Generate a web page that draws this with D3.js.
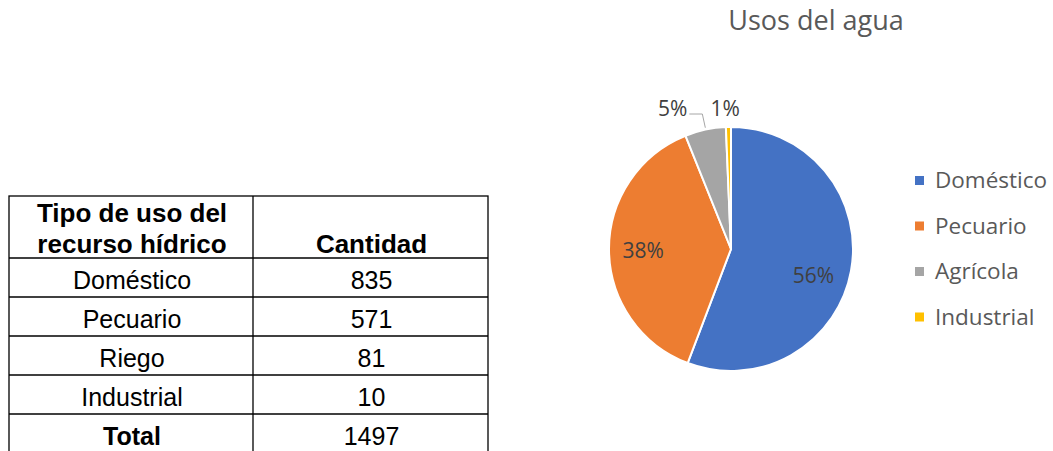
<!DOCTYPE html>
<html>
<head>
<meta charset="utf-8">
<script src="https://cdn.jsdelivr.net/npm/d3@7"></script>
<style>
  body { margin: 0; background: #fff; }
  svg { display: block; }
</style>
</head>
<body>
<svg id="chart" width="1053" height="451"></svg>
<script>
// table data
const tableHeader = ["Tipo de uso del\nrecurso hídrico", "Cantidad"];
const tableTypes = ["Doméstico", "Pecuario", "Riego", "Industrial"];
const tableValues = [835, 571, 81, 10];
const tableTotal = 1497;

// pie data
const pieLabels = ["Doméstico", "Pecuario", "Agrícola", "Industrial"];
const pieValues = [835, 571, 81, 10];
const pieColors = ["#4472C4", "#ED7D31", "#A5A5A5", "#FFC000"];
const chartTitle = "Usos del agua";

const svg = d3.select("#chart");

// ---- table ----
const tbl = svg.append("g");
const colX = [9, 253, 488];
const headTop = 196, headBottom = 258, rowH = 39;
const rowTop = i => headBottom + i * rowH;
const tableBottom = 470;

tbl.append("rect")
    .attr("x", colX[0]).attr("y", headTop)
    .attr("width", colX[2] - colX[0]).attr("height", tableBottom - headTop)
    .attr("fill", "none").attr("stroke", "#000").attr("stroke-width", 1.3);
tbl.append("line")
    .attr("x1", colX[1]).attr("x2", colX[1])
    .attr("y1", headTop).attr("y2", tableBottom)
    .attr("stroke", "#000").attr("stroke-width", 1.3);
d3.range(tableTypes.length + 1).forEach(i => {
    tbl.append("line")
        .attr("x1", colX[0]).attr("x2", colX[2])
        .attr("y1", rowTop(i)).attr("y2", rowTop(i))
        .attr("stroke", "#000").attr("stroke-width", 1.3);
});

const c1 = (colX[0] + colX[1]) / 2 + 1, c2 = (colX[1] + colX[2]) / 2 + 1;
const tfont = "'Liberation Sans', Arial, sans-serif";

tableHeader[0].split("\n").forEach((line, i) => {
    tbl.append("text")
        .attr("x", c1).attr("y", 222 + i * 31)
        .attr("text-anchor", "middle")
        .style("font-family", tfont).style("font-size", "26px").style("font-weight", "bold")
        .text(line);
});
tbl.append("text")
    .attr("x", c2).attr("y", 253)
    .attr("text-anchor", "middle")
    .style("font-family", tfont).style("font-size", "26px").style("font-weight", "bold")
    .text(tableHeader[1]);

tableTypes.forEach((t, i) => {
    const y = rowTop(i) + 31;
    tbl.append("text").attr("x", c1).attr("y", y)
        .attr("text-anchor", "middle")
        .style("font-family", tfont).style("font-size", "25px")
        .text(t);
    tbl.append("text").attr("x", c2).attr("y", y)
        .attr("text-anchor", "middle")
        .style("font-family", tfont).style("font-size", "25px")
        .text(tableValues[i]);
});
const ty = rowTop(tableTypes.length) + 31;
tbl.append("text").attr("x", c1).attr("y", ty)
    .attr("text-anchor", "middle")
    .style("font-family", tfont).style("font-size", "25px").style("font-weight", "bold")
    .text("Total");
tbl.append("text").attr("x", c2).attr("y", ty)
    .attr("text-anchor", "middle")
    .style("font-family", tfont).style("font-size", "25px")
    .text(tableTotal);

// ---- pie ----
const cfont = "'Open Sans', 'Noto Sans', sans-serif";
const cx = 731, cy = 249, R = 122;
const total = d3.sum(pieValues);
const pie = d3.pie().sort(null).value(d => d)(pieValues);
const arc = d3.arc().innerRadius(0).outerRadius(R);
const labelArc = d3.arc().innerRadius(R * 0.72).outerRadius(R * 0.72);

const pg = svg.append("g").attr("transform", `translate(${cx},${cy})`);
pg.selectAll("path")
    .data(pie)
    .join("path")
    .attr("d", arc)
    .attr("fill", (d, i) => pieColors[i])
    .attr("stroke", "#fff")
    .attr("stroke-width", 2);

const pct = v => Math.round(v / total * 100) + "%";

pie.forEach((d, i) => {
    const mid = (d.startAngle + d.endAngle) / 2;
    if (d.endAngle - d.startAngle > 0.5) {
        const [x, y] = labelArc.centroid(d);
        // big slice labels sit a bit lower in the original
        const shift = i === 0 ? 10 : 0;
        pg.append("text")
            .attr("x", x - (i === 0 ? 4 : 0)).attr("y", y + 8 + shift)
            .attr("text-anchor", "middle")
            .style("font-family", cfont).style("font-size", "21px")
            .attr("fill", "#404040")
            .text(pct(d.value));
    } else {
        const ex = Math.sin(mid) * R, ey = -Math.cos(mid) * R;
        const ly = -R - 15;
        if (i === 2) {
            // outside label with leader
            pg.append("polyline")
                .attr("points", `${ex - 16},${ly + 2} ${ex - 3},${ly + 2} ${ex},${ey - 2}`)
                .attr("fill", "none").attr("stroke", "#A6A6A6").attr("stroke-width", 1);
            pg.append("text")
                .attr("x", ex - 18).attr("y", ly + 4)
                .attr("text-anchor", "end")
                .style("font-family", cfont).style("font-size", "21px")
                .attr("fill", "#404040")
                .text(pct(d.value));
        } else {
            pg.append("text")
                .attr("x", ex - 18).attr("y", ly + 4)
                .attr("text-anchor", "start")
                .style("font-family", cfont).style("font-size", "21px")
                .attr("fill", "#404040")
                .text(pct(d.value));
        }
    }
});

// title
svg.append("text")
    .attr("x", 816).attr("y", 30)
    .attr("text-anchor", "middle")
    .style("font-family", cfont).style("font-size", "27px")
    .attr("fill", "#595959")
    .text(chartTitle);

// legend
const lg = svg.append("g").attr("transform", "translate(915,181)");
pieLabels.forEach((l, i) => {
    const y = i * 45.5;
    lg.append("rect").attr("x", 0).attr("y", y - 5).attr("width", 9).attr("height", 9)
        .attr("fill", pieColors[i]);
    lg.append("text").attr("x", 20).attr("y", y + 7)
        .style("font-family", cfont).style("font-size", "22.5px")
        .attr("fill", "#595959")
        .text(l);
});
</script>
</body>
</html>
